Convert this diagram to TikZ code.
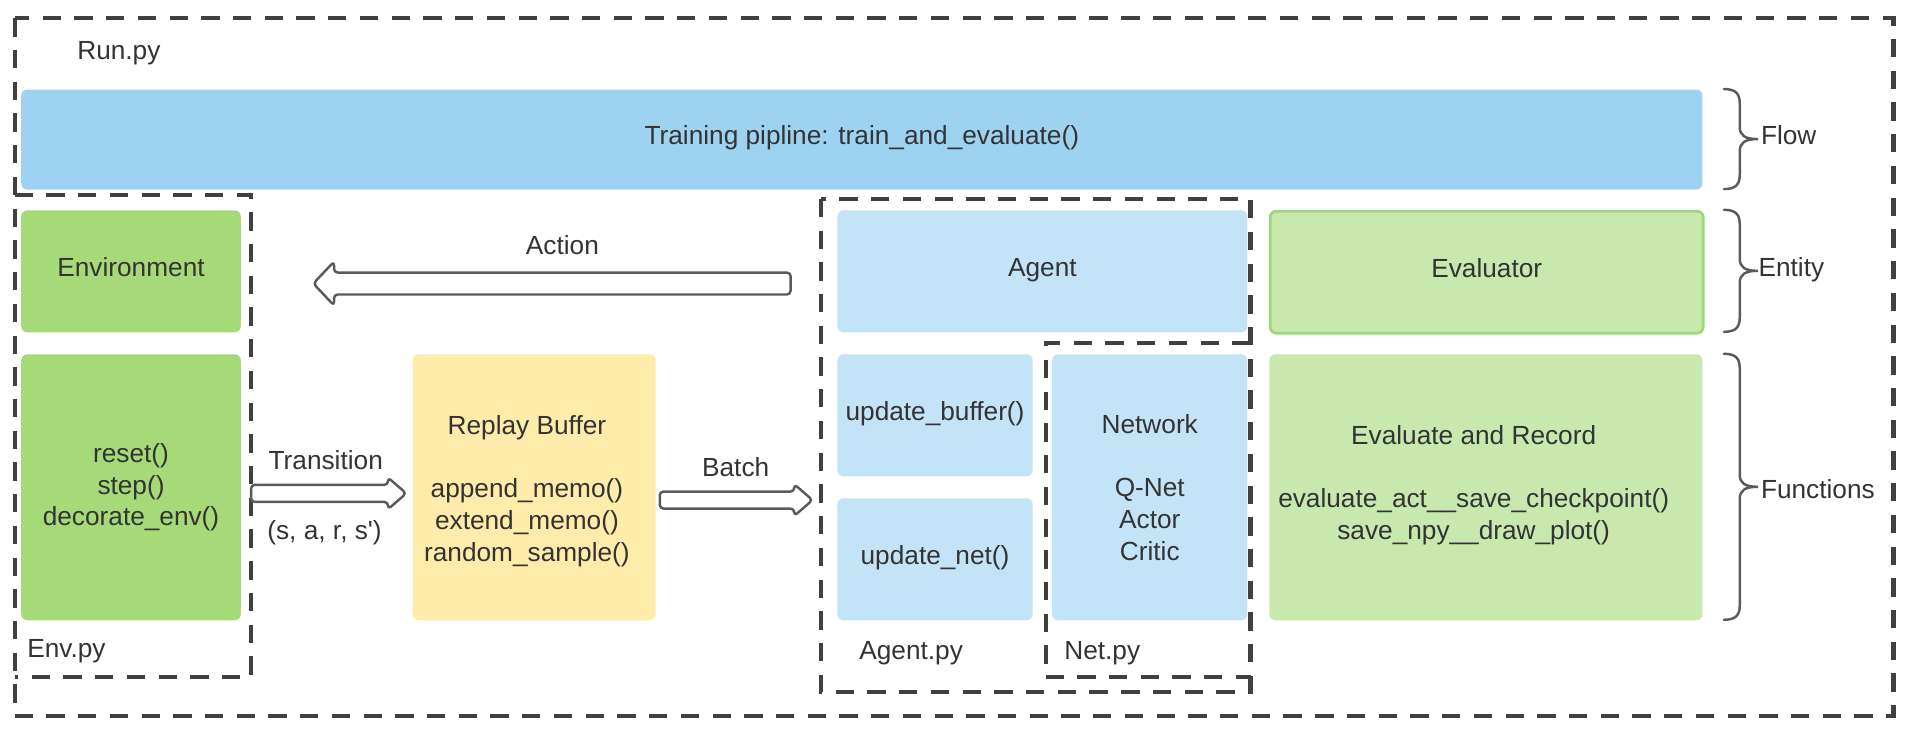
\documentclass[tikz,border=0pt]{standalone}
\usepackage{fontspec}
\setmainfont{Liberation Sans}
\usetikzlibrary{calc}
\definecolor{txt}{HTML}{333333}
\definecolor{trainc}{HTML}{9DD3F0}
\definecolor{agentc}{HTML}{C3E4F6}
\definecolor{envc}{HTML}{A6DA79}
\definecolor{evalc}{HTML}{C8E8AE}
\definecolor{evalb}{HTML}{9CD77A}
\definecolor{bufc}{HTML}{FFEBAA}
\definecolor{dashc}{HTML}{404040}
\definecolor{arrc}{HTML}{5A5A5A}
\newcommand\mybrace[2]{%
  \pgfmathsetmacro\bm{(#1+#2)/2}%
  \draw[brc] (1413,#1) .. controls (1423,#1) and (1426,#1+4) .. (1426,#1+12)
    -- (1426,\bm-10) .. controls (1426,\bm-3) and (1430,\bm) .. (1441,\bm)
    .. controls (1430,\bm) and (1426,\bm+3) .. (1426,\bm+10)
    -- (1426,#2-12) .. controls (1426,#2-4) and (1423,#2) .. (1413,#2);}
\begin{document}
\begin{tikzpicture}[x=0.5pt,y=-0.5pt,
  font=\fontsize{10.75}{13}\selectfont, text=txt,
  box/.style={rectangle, rounded corners=2.5pt, inner sep=0pt, align=center, anchor=north west},
  oneline/.style={text height=7.5pt, text depth=3.3pt},
  lbl/.style={inner sep=0pt, align=center},
  dashbox/.style={draw=dashc, line width=1.7pt, dash pattern=on 7.5pt off 5.5pt},
  blockarr/.style={draw=arrc, line width=1pt, fill=white, rounded corners=1.5pt, line join=round},
  brc/.style={draw=arrc, line width=1pt, line cap=round}]
\useasboundingbox (0,0) rectangle (1568,603.3);

% dashed module frames
\draw[dashbox] (12,15) rectangle (1552,587);
\draw[dashbox] (12,160) -- (206,160) -- (206,555) -- (12,555);
\draw[dashbox] (673,163) rectangle (1025,567);
\draw[dashbox] (1025,281) -- (857,281) -- (857,555) -- (1025,555);

% boxes
\node[box, oneline, fill=trainc, minimum width=689pt, minimum height=41pt] (train) at (17,73) {Training pipline: train\_and\_evaluate()};
\node[box, oneline, fill=envc, minimum width=90pt, minimum height=50pt] (env) at (17,172) {Environment};
\node[box, fill=envc, minimum width=90pt, minimum height=109pt] (envf) at (17,290) {reset()\\step()\\decorate\_env()};
\node[box, fill=bufc, minimum width=99.5pt, minimum height=109pt] (buf) at (338,290) {};
\node[lbl] (buftxt) at ($(buf.center)+(-6,3)$) {Replay Buffer\\[13pt]append\_memo()\\extend\_memo()\\random\_sample()};
\node[box, oneline, fill=agentc, minimum width=168pt, minimum height=50pt] (agent) at (686,172) {Agent};
\node[box, oneline, fill=agentc, minimum width=80pt, minimum height=50pt] (upbuf) at (686,290) {update\_buffer()};
\node[box, oneline, fill=agentc, minimum width=80pt, minimum height=50pt] (upnet) at (686,408) {update\_net()};
\node[box, fill=agentc, minimum width=80pt, minimum height=109pt] (net) at (862,290) {Network\\[13pt]Q-Net\\Actor\\Critic};
\node[box, oneline, fill=evalc, draw=evalb, line width=1.1pt, minimum width=177.5pt, minimum height=50pt] (eval) at (1040,172) {Evaluator};
\node[box, fill=evalc, minimum width=177.5pt, minimum height=109pt] (evalf) at (1040,290) {};
\node[lbl] (evaltxt) at ($(evalf.center)+(-10,-2)$) {Evaluate and Record\\[13pt]evaluate\_act\_\_save\_checkpoint()\\save\_npy\_\_draw\_plot()};

% file labels
\node[lbl, anchor=west] (runpy) at (63,44) {Run.py};
\node[lbl, anchor=west] (envpy) at (22,534) {Env.py};
\node[lbl, anchor=west] (agentpy) at (704,535) {Agent.py};
\node[lbl, anchor=west] (netpy) at (872,535) {Net.py};

% Action arrow: agent -> env
\coordinate (actT) at ($(agent.west)+(-38,10)$);
\coordinate (actH) at ($(env.east)+(59,10)$);
\draw[blockarr] ($(actT)+(0,-9)$) -- ($(actH)+(17,-9)$) -- ($(actH)+(17,-18)$) -- (actH)
  -- ($(actH)+(17,18)$) -- ($(actH)+(17,9)$) -- ($(actT)+(0,9)$) -- cycle;
\node[lbl] (actlbl) at (461,201) {Action};

% Transition arrow: envf -> buf
\coordinate (trT) at ($(envf.east)+(8,5)$);
\coordinate (trH) at ($(buf.west)+(-5,5)$);
\draw[blockarr] ($(trT)+(0,-7)$) -- ($(trH)+(-15,-7)$) -- ($(trH)+(-15,-13)$) -- (trH)
  -- ($(trH)+(-15,13)$) -- ($(trH)+(-15,7)$) -- ($(trT)+(0,7)$) -- cycle;
\node[lbl] (trlbl) at (267,377) {Transition};
\node[lbl] (trlbl2) at (266,437) {(s, a, r, s\textquotesingle)};

% Batch arrow: buf -> agent module
\coordinate (baT) at ($(buf.east)+(3,10.5)$);
\coordinate (baH) at ($(upnet.west)+(-20,-48.5)$);
\draw[blockarr] ($(baT)+(0,-7)$) -- ($(baH)+(-15,-7)$) -- ($(baH)+(-15,-13)$) -- (baH)
  -- ($(baH)+(-15,13)$) -- ($(baH)+(-15,7)$) -- ($(baT)+(0,7)$) -- cycle;
\node[lbl] (balbl) at (603,382.5) {Batch};

% braces
\mybrace{73}{155}
\mybrace{172}{272}
\mybrace{290}{508}
\node[lbl, anchor=west] (flow) at (1443,111) {Flow};
\node[lbl, anchor=west] (entity) at (1441,221) {Entity};
\node[lbl, anchor=west] (funcs) at (1443,401) {Functions};
\end{tikzpicture}
\end{document}
